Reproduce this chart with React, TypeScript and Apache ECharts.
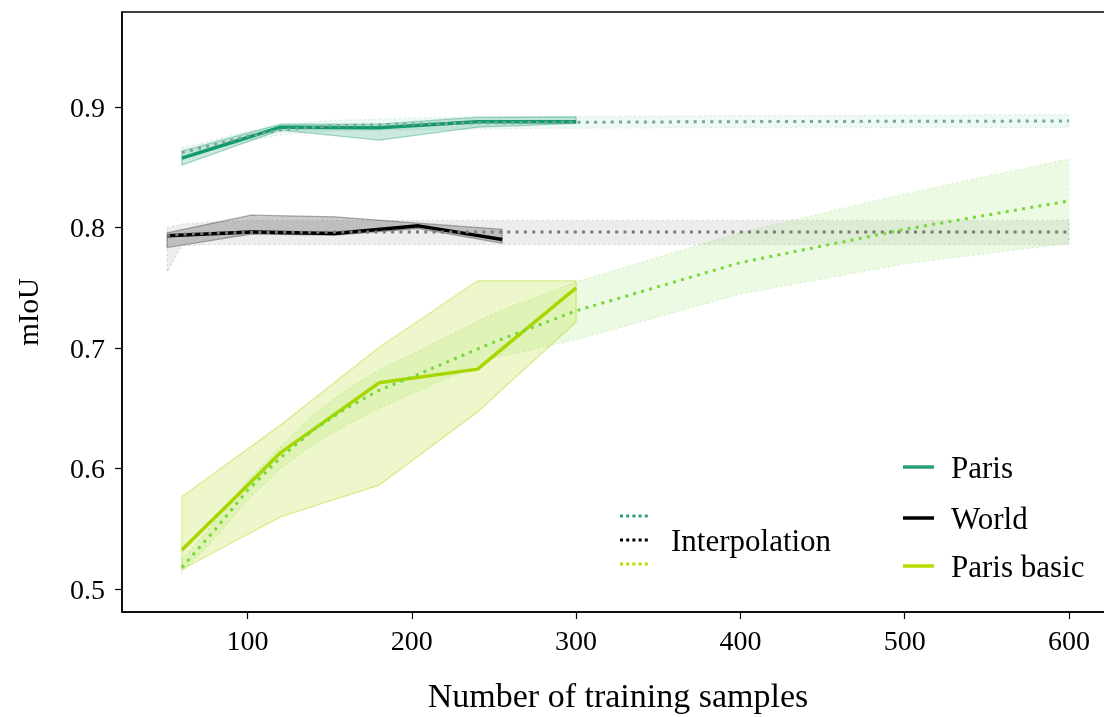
import React, { useEffect, useRef } from "react";
import * as echarts from "echarts";

// ---- data ----
const xTicks = [100, 200, 300, 400, 500, 600];
const yTicks = [0.5, 0.6, 0.7, 0.8, 0.9];

const parisX = [60, 120, 180, 240, 300];
const parisY = [0.8577, 0.8834, 0.883, 0.888, 0.888];
const parisLo = [0.852, 0.881, 0.8726, 0.8834, 0.8865];
const parisHi = [0.8635, 0.886, 0.886, 0.8917, 0.892];

const worldX = [51, 102, 153, 204, 255];
const worldY = [0.7932, 0.7965, 0.7952, 0.8015, 0.7902];
const worldLo = [0.7835, 0.7946, 0.7938, 0.7993, 0.787];
const worldHi = [0.7957, 0.8104, 0.809, 0.8037, 0.7985];

const basicX = [60, 120, 180, 240, 300];
const basicY = [0.5324, 0.6131, 0.6712, 0.6826, 0.75];
const basicLo = [0.5163, 0.56, 0.5863, 0.6471, 0.7218];
const basicHi = [0.5766, 0.6361, 0.7006, 0.7559, 0.7559];

const parisIX = [60, 80, 100, 120, 150, 200, 250, 300, 400, 500, 600];
const parisIY = [0.8625, 0.869, 0.876, 0.881, 0.8845, 0.886, 0.887, 0.8875, 0.888, 0.8883, 0.8885];
const parisIHi = [0.8665, 0.873, 0.88, 0.885, 0.889, 0.891, 0.892, 0.8925, 0.893, 0.8935, 0.894];
const parisILo = [0.8585, 0.865, 0.872, 0.877, 0.88, 0.881, 0.882, 0.8825, 0.883, 0.8832, 0.8832];

const worldIX = [51, 60, 80, 100, 150, 200, 300, 400, 500, 600];
const worldIY = [0.7935, 0.7945, 0.7955, 0.796, 0.7963, 0.7964, 0.7965, 0.7965, 0.7965, 0.7965];
const worldIHi = [0.8, 0.803, 0.805, 0.806, 0.806, 0.806, 0.806, 0.806, 0.806, 0.806];
const worldILo = [0.763, 0.785, 0.786, 0.786, 0.786, 0.786, 0.786, 0.786, 0.786, 0.786];

const basicIX = [60, 80, 100, 120, 140, 160, 180, 200, 250, 300, 400, 500, 600];
const basicIY = [0.518, 0.549, 0.582, 0.609, 0.632, 0.65, 0.665, 0.676, 0.705, 0.731, 0.771, 0.7986, 0.8222];
const basicIHi = [0.524, 0.556, 0.59, 0.618, 0.645, 0.665, 0.682, 0.695, 0.729, 0.755, 0.796, 0.828, 0.857];
const basicILo = [0.514, 0.542, 0.574, 0.6, 0.62, 0.636, 0.65, 0.662, 0.692, 0.707, 0.745, 0.77, 0.787];

const legendMain = ["Paris", "World", "Paris basic"];
const legendInterp = "Interpolation";

// ---- styles ----
const FONT = "'Liberation Serif', 'Times New Roman', serif";
const C_PARIS = "#14996c";
const C_WORLD = "#000000";
const C_BASIC = "#a8d600";
const C_PARIS_I = "#72aa90";
const C_WORLD_I = "#7a7a7a";
const C_BASIC_I = "#78d83a";

function pts(xs: number[], ys: number[]) {
  return xs.map((x, i) => [x, ys[i]]);
}

function band(name: string, xs: number[], lo: number[], hi: number[], fill: string, stroke: string, dash: number[] | null, z: number) {
  return {
    type: "custom",
    name,
    silent: true,
    z,
    data: xs.map((x, i) => [x, lo[i], hi[i]]),
    encode: { x: 0, y: [1, 2] },
    renderItem: (params: any, api: any) => {
      if (params.dataIndex !== 0) return null;
      const top = xs.map((x, i) => api.coord([x, hi[i]]));
      const bot = xs.map((x, i) => api.coord([x, lo[i]])).reverse();
      return {
        type: "polygon",
        shape: { points: top.concat(bot) },
        style: { fill, stroke, lineWidth: 1.3, lineDash: dash || undefined },
      };
    },
  };
}

function line(name: string, xs: number[], ys: number[], color: string, width: number, dotted: boolean, z: number) {
  return {
    type: "line",
    name,
    z,
    data: pts(xs, ys),
    showSymbol: false,
    symbol: "none",
    silent: true,
    lineStyle: { color, width, type: dotted ? [3, 5.3] : "solid", cap: "butt", join: "round" },
  };
}

export default function App() {
  const ref = useRef<HTMLDivElement>(null);
  useEffect(() => {
    if (!ref.current) return;
    const chart = echarts.init(ref.current, null, { renderer: "svg" });
    const lx1 = 903, lx2 = 934, ltx = 951;
    const ly = [467, 518, 566];
    const lcol = ["#2a9d72", "#000000", "#b4dc00"];
    const ix1 = 620, ix2 = 650;
    const iy = [516, 540, 564];
    const icol = ["#2e9e74", "#000000", "#b5dd00"];
    const graphic: any[] = [];
    legendMain.forEach((t, i) => {
      graphic.push({ type: "line", z: 100, shape: { x1: lx1, y1: ly[i], x2: lx2, y2: ly[i] }, style: { stroke: lcol[i], lineWidth: 3.5 } });
      graphic.push({ type: "text", z: 100, x: ltx, y: ly[i], style: { text: t, font: `31px ${FONT}`, fill: "#000", verticalAlign: "middle", align: "left" } });
    });
    icol.forEach((c, i) => {
      graphic.push({ type: "line", z: 100, shape: { x1: ix1, y1: iy[i], x2: ix2, y2: iy[i] }, style: { stroke: c, lineWidth: 3, lineDash: [3, 3.2] } });
    });
    graphic.push({ type: "text", z: 100, x: 671, y: 540, style: { text: legendInterp, font: `31px ${FONT}`, fill: "#000", verticalAlign: "middle", align: "left" } });

    chart.setOption({
      animation: false,
      textStyle: { fontFamily: FONT },
      grid: { left: 122, top: 12, width: 992, height: 600, outerBoundsMode: "none", containLabel: false, show: true, borderColor: "#000", borderWidth: 1.5, backgroundColor: "transparent" },
      xAxis: {
        type: "value",
        min: 23.55,
        max: 627.45,
        name: "Number of training samples",
        nameLocation: "middle",
        nameGap: 66,
        nameTextStyle: { fontSize: 34, color: "#000", fontFamily: FONT },
        axisLine: { show: true, lineStyle: { color: "#000", width: 1.5 } },
        axisTick: { show: true, inside: false, length: 7, lineStyle: { color: "#000", width: 1.2 }, customValues: xTicks },
        axisLabel: { customValues: xTicks, formatter: (v: number) => String(v), fontSize: 28, color: "#000", margin: 14, fontFamily: FONT },
        splitLine: { show: false },
      },
      yAxis: {
        type: "value",
        min: 0.481,
        max: 0.979,
        name: "mIoU",
        nameLocation: "middle",
        nameGap: 80,
        nameTextStyle: { fontSize: 29, color: "#000", fontFamily: FONT },
        axisLine: { show: true, lineStyle: { color: "#000", width: 1.5 } },
        axisTick: { show: true, inside: false, length: 7, lineStyle: { color: "#000", width: 1.2 }, customValues: yTicks },
        axisLabel: { customValues: yTicks, formatter: (v: number) => v.toFixed(1), fontSize: 28, color: "#000", margin: 17, fontFamily: FONT },
        splitLine: { show: false },
      },
      graphic,
      series: [
        band("Paris interp band", parisIX, parisILo, parisIHi, "rgba(20,153,108,0.07)", "rgba(20,153,108,0.13)", [2, 3], 1),
        band("World interp band", worldIX, worldILo, worldIHi, "rgba(0,0,0,0.07)", "rgba(0,0,0,0.12)", [2, 3], 1),
        band("Paris basic interp band", basicIX, basicILo, basicIHi, "rgba(120,216,58,0.14)", "rgba(120,216,58,0.25)", [2, 3], 1),
        band("Paris band", parisX, parisLo, parisHi, "rgba(20,153,108,0.22)", "rgba(20,153,108,0.35)", null, 2),
        band("World band", worldX, worldLo, worldHi, "rgba(0,0,0,0.2)", "rgba(0,0,0,0.3)", null, 2),
        band("Paris basic band", basicX, basicLo, basicHi, "rgba(168,214,0,0.2)", "rgba(168,214,0,0.4)", null, 2),
        line("Paris", parisX, parisY, C_PARIS, 3.5, false, 3),
        line("World", worldX, worldY, C_WORLD, 3.5, false, 3),
        line("Paris basic", basicX, basicY, C_BASIC, 3.5, false, 3),
        line("Paris interpolation", parisIX, parisIY, C_PARIS_I, 3, true, 4),
        line("World interpolation", worldIX, worldIY, C_WORLD_I, 3, true, 4),
        line("Paris basic interpolation", basicIX, basicIY, C_BASIC_I, 3, true, 4),
      ],
    });
    return () => chart.dispose();
  }, []);
  return <div ref={ref} style={{ position: "fixed", left: 0, top: 0, width: 1104, height: 717 }} />;
}
